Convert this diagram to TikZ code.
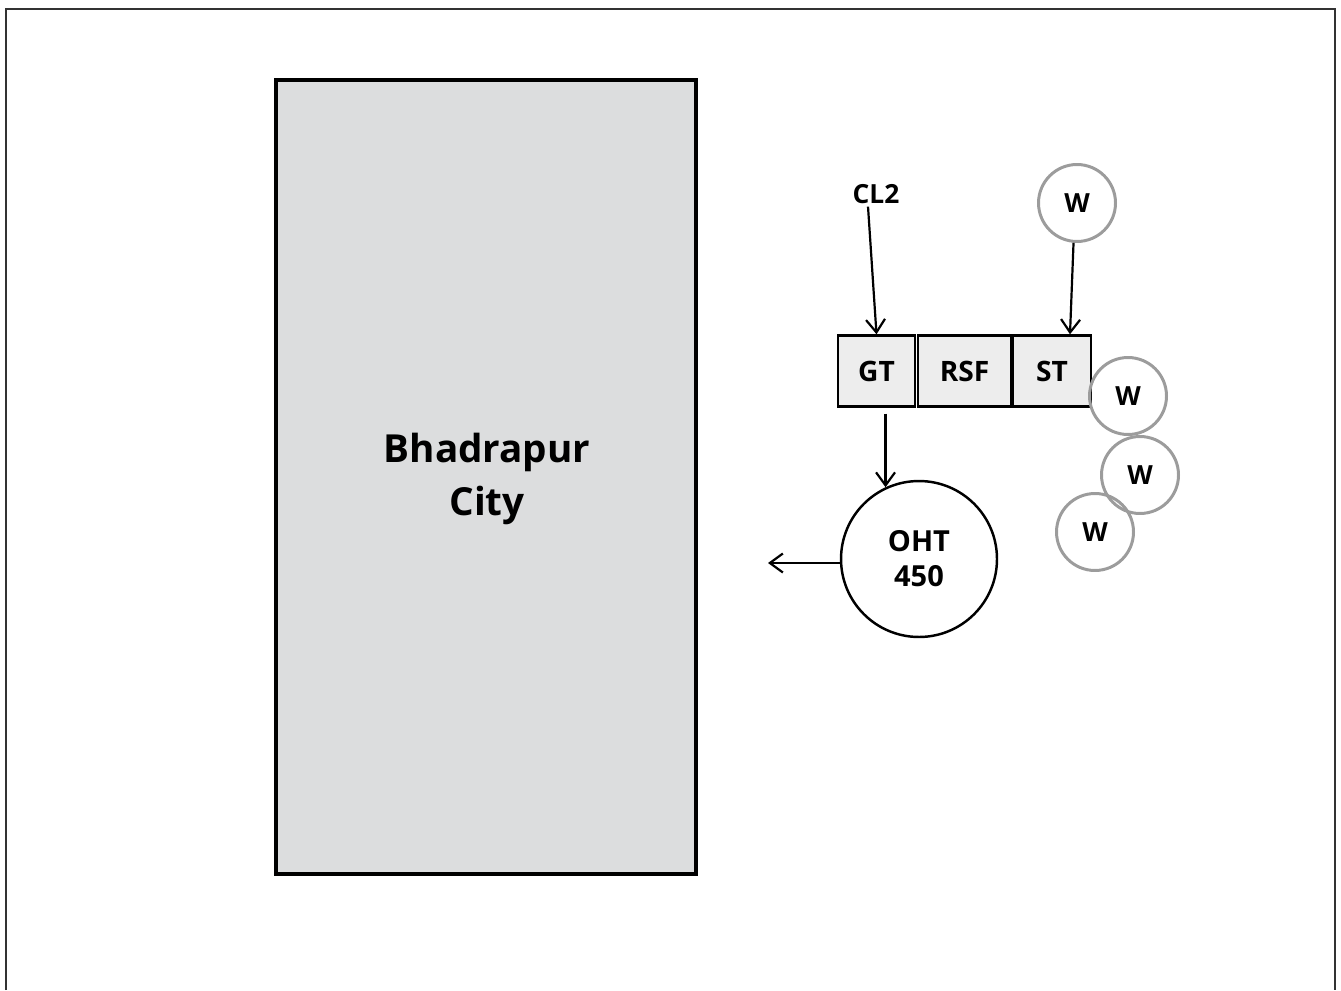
\documentclass[tikz,border=0pt]{standalone}
\usepackage{fontspec}
\setsansfont{Open Sans}
\usetikzlibrary{
    arrows.meta,
    shapes.geometric
}
\definecolor{cityfill}{HTML}{DCDDDE}
\definecolor{unitfill}{HTML}{EDEDED}
\definecolor{wellgray}{HTML}{9C9C9C}
\definecolor{framegray}{HTML}{333333}
\tikzset{
  every node/.style={
    font=\sffamily\bfseries,
    inner sep=1.5pt
  },
  flow/.style={
    line width=1.25pt,
    -{Straight Barb[length=2.6mm,width=3.8mm,line width=1.25pt]}
  },
  unit/.style={
    draw,
    fill=unitfill,
    line width=1.4pt,
    minimum height=1.42cm,
    font=\sffamily\bfseries\fontsize{16}{18}\selectfont
  },
  well/.style={
    draw=wellgray,
    circle,
    line width=1.7pt,
    minimum size=1.54cm,
    font=\sffamily\bfseries\fontsize{15}{17}\selectfont
  }
}

\begin{document}
\begin{tikzpicture}[x=0.02cm,y=-0.02cm]
    \useasboundingbox (0,0) rectangle (1341,990);
    %-------------------------
    %枠
    %-------------------------
    \draw[framegray,line width=0.9pt] (6,990) -- (6,9) -- (1335,9) -- (1335,990);

    %-------------------------
    %city
    %-------------------------
    \node[draw,fill=cityfill,line width=2.3pt,minimum width=8.4cm,minimum height=15.88cm,
          align=center,font=\sffamily\bfseries\fontsize{22}{30.5}\selectfont] (city) at (486,477) {};
    \node[align=center,font=\sffamily\bfseries\fontsize{22}{30.5}\selectfont] (citylbl) at (487,479) {Bhadrapur\\City};

    %-------------------------
    %treatment units
    %-------------------------
    \node[unit,minimum width=1.54cm] (gt) at (876.5,371) {GT};
    \node[unit,minimum width=1.86cm] (rsf) at (964.5,371) {RSF};
    \node[unit,minimum width=1.56cm] (st) at (1052,371) {ST};

    \node[font=\sffamily\bfseries\fontsize{15}{17}\selectfont] (cl) at (876,194) {CL2};

    \node[well] (w1) at (1077,203) {W};
    \node[well] (w2) at (1128,396) {W};
    \node[well] (w3) at (1140,475) {W};
    \node[well] (w4) at (1095,532) {W};

    \node[draw,circle,line width=1.4pt,minimum size=3.12cm,align=center,
          font=\sffamily\bfseries\fontsize{16.5}{20}\selectfont] (oht) at (919,559) {OHT\\450};

    \coordinate (out) at (768,563);

    \draw[flow] ([xshift=-0.16cm]cl.south) -- (gt.north);
    \draw[flow] (w1.265) -- ([xshift=0.36cm]st.north);
    \draw[flow] ([yshift=-0.12cm]gt.south -| oht.115) -- (oht.115);
    \draw[flow] (oht.west |- out) -- (out);

\end{tikzpicture}
\end{document}
